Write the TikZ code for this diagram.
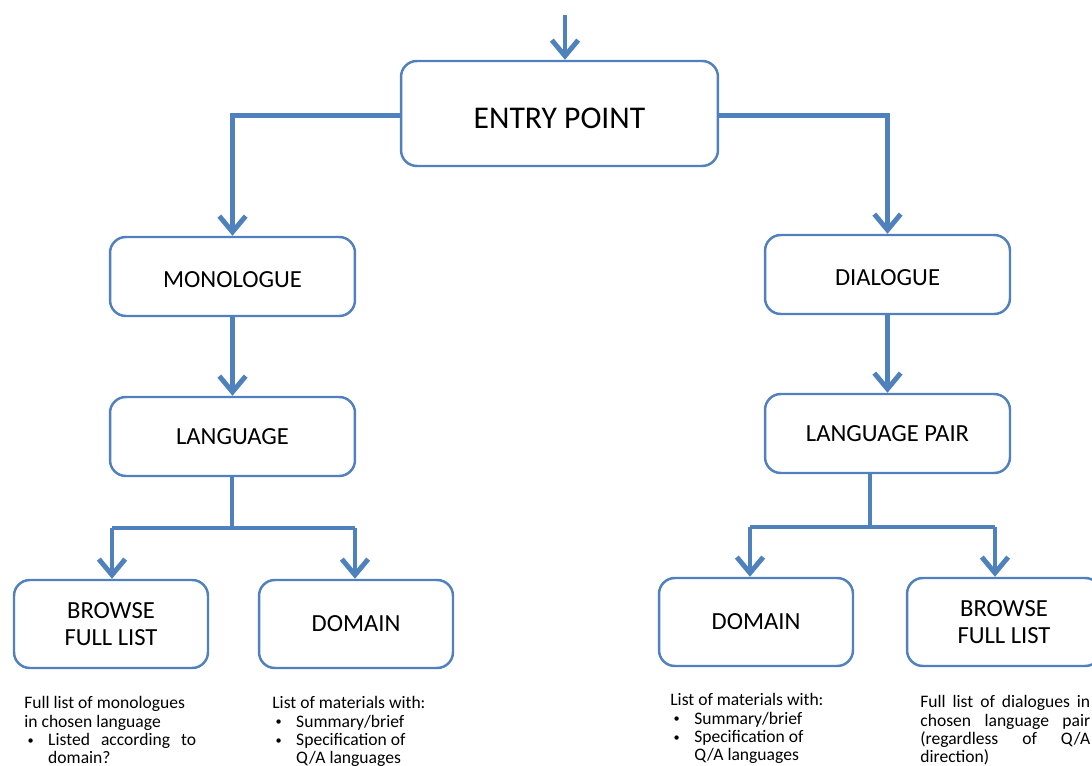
\documentclass[tikz,border=0pt]{standalone}
\usepackage{fontspec}
\setmainfont{Carlito}
\usetikzlibrary{arrows.meta}

\definecolor{flowblue}{HTML}{4F81BD}
\definecolor{edgeblue}{HTML}{5080BD}

% one bullet item of a note, hanging under its first word
\newcommand{\notebullet}[2][3cm]{%
  \makebox[13.6pt][l]{\hspace{1.8pt}{\fontsize{7}{7}\selectfont\raisebox{0.6pt}{\textbullet}}}%
  \parbox[t]{#1}{\raggedright #2}}
% a line spread to the full width
\newcommand{\spreadline}[2]{\leavevmode\hbox to #1{\spaceskip=0.23em plus 1fil\relax #2}}

\tikzset{
  stage/.style={draw=edgeblue, line width=1.4pt, rounded corners=9pt,
    fill=white, align=center, inner sep=0pt,
    font=\fontsize{14}{15}\selectfont},
  flow/.style={draw=flowblue, line width=2.8pt,
    -{Straight Barb[length=9pt,width=15pt]}},
  link/.style={draw=flowblue, line width=2.8pt},
  note/.style={anchor=north west, inner sep=0pt, align=left,
    font=\fontsize{10}{10.5}\selectfont}
}

\begin{document}
\begin{tikzpicture}[x=0.02cm, y=-0.02cm]
  \useasboundingbox (0,0) rectangle (1092,766);

  % boxes
  \node[stage, minimum width=6.34cm, minimum height=2.1cm,
        font=\fontsize{18}{20}\selectfont,
        text height=17.2pt, text depth=0pt] (entry) at (559.5,113.5) {ENTRY POINT};

  \node[stage, minimum width=4.9cm, minimum height=1.58cm,
        text height=12.4pt, text depth=0pt] (mono) at (232.5,276.5) {MONOLOGUE};
  \node[stage, minimum width=4.9cm, minimum height=1.58cm] (lang) at (232.5,436.5) {LANGUAGE};
  \node[stage, minimum width=4.9cm, minimum height=1.58cm,
        text height=12.4pt, text depth=0pt] (dia)  at (887.5,274.5) {DIALOGUE};
  \node[stage, minimum width=4.9cm, minimum height=1.58cm] (pair) at (887.5,433.5) {LANGUAGE PAIR};

  \node[stage, minimum width=3.88cm, minimum height=1.76cm] (browseL) at (111,624) {BROWSE\\FULL LIST};
  \node[stage, minimum width=3.88cm, minimum height=1.76cm] (domainL) at (356,624) {DOMAIN};
  \node[stage, minimum width=3.88cm, minimum height=1.76cm] (domainR) at (756,622) {DOMAIN};
  \node[stage, minimum width=3.88cm, minimum height=1.76cm] (browseR) at (1004,622) {BROWSE\\FULL LIST};

  % connectors
  \coordinate (start) at (565,15);
  \draw[flow] (start) -- (start |- entry.north);
  \draw[flow] ([yshift=-1.4pt]entry.west) -| (mono.north);
  \draw[flow] ([yshift=-1.4pt]entry.east) -| (dia.north);
  \draw[flow] (mono) -- (lang);
  \draw[flow] (dia) -- (pair);

  % left split
  \coordinate (splitL) at (232,528);
  \coordinate (dropLa) at (112,528);
  \coordinate (dropLb) at (355,528);
  \draw[link] (splitL |- lang.south) -- (splitL);
  \draw[link] (dropLa) -- (dropLb);
  \draw[flow] (dropLa) -- (dropLa |- browseL.north);
  \draw[flow] (dropLb) -- (dropLb |- domainL.north);

  % right split
  \coordinate (splitR) at (870,527);
  \coordinate (dropRa) at (750,527);
  \coordinate (dropRb) at (995,527);
  \draw[link] (splitR |- pair.south) -- (splitR);
  \draw[link] (dropRa) -- (dropRb);
  \draw[flow] (dropRa) -- (dropRa |- domainR.north);
  \draw[flow] (dropRb) -- (dropRb |- browseR.north);

  % notes under the boxes
  \node[note] (noteA) at (24,696) {%
    Full list of monologues\\
    in chosen language\\
    \notebullet[2.96cm]{\spreadline{2.96cm}{Listed according to}\\domain?}};

  \node[note] (noteB) at (272,696) {%
    List of materials with:\\
    \notebullet{Summary/brief}\\
    \notebullet{Specification of\\Q/A languages}};

  \node[note] (noteC) at (670,693) {%
    List of materials with:\\
    \notebullet{Summary/brief}\\
    \notebullet{Specification of\\Q/A languages}};

  \node[note] (noteD) at (920,695) {%
    \spreadline{3.4cm}{Full list of dialogues in}\\
    \spreadline{3.4cm}{chosen language pair}\\
    \spreadline{3.4cm}{(regardless of Q/A}\\
    direction)};

\end{tikzpicture}
\end{document}
